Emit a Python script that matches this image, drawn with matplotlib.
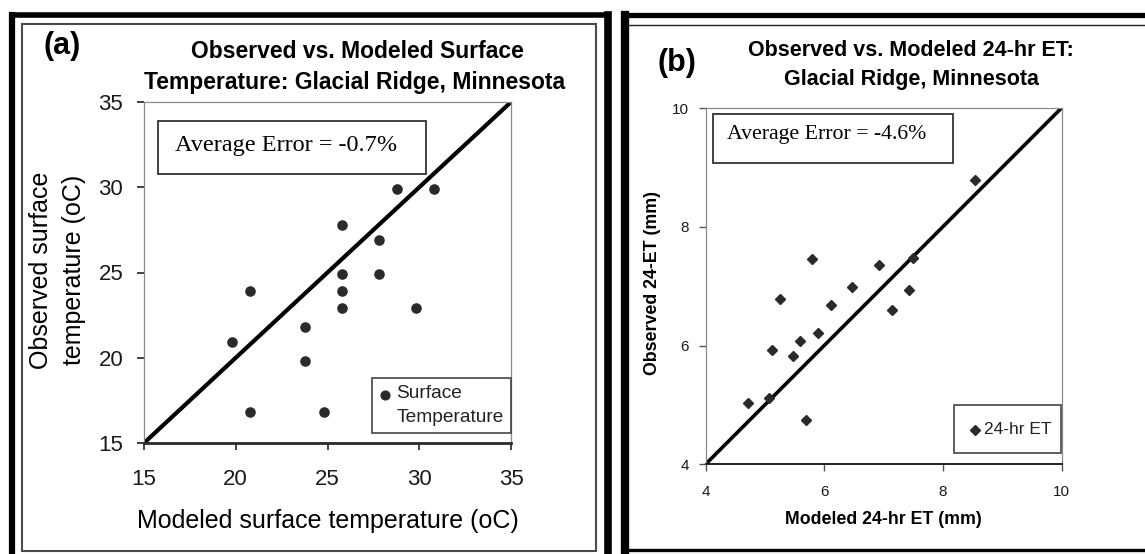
import matplotlib
matplotlib.use("Agg")
import matplotlib.pyplot as plt
import matplotlib.transforms as mtransforms
from matplotlib.patches import Rectangle
from matplotlib.lines import Line2D

W, H = 1145, 554

# ---------------- data ----------------
# Panel (a): surface temperature (oC)
modeled_temp = [28.8, 30.8, 25.8, 27.8, 25.8, 27.8, 20.8, 25.8, 25.8, 29.8, 23.8, 19.8, 23.8, 20.8, 24.8]
observed_temp = [29.9, 29.9, 27.8, 26.9, 24.9, 24.9, 23.9, 23.9, 22.9, 22.9, 21.8, 20.9, 19.8, 16.8, 16.8]
temp_ticks = [15, 20, 25, 30, 35]

# Panel (b): 24-hr ET (mm)
modeled_et = [8.55, 5.79, 6.92, 7.49, 6.47, 7.43, 5.25, 6.11, 7.15, 5.90, 5.59, 5.12, 5.47, 4.71, 5.07, 5.69]
observed_et = [8.78, 7.46, 7.36, 7.48, 6.99, 6.94, 6.78, 6.69, 6.60, 6.21, 6.07, 5.93, 5.83, 5.04, 5.11, 4.74]
et_ticks = [4, 6, 8, 10]

title_a = ["Observed vs. Modeled Surface", "Temperature: Glacial Ridge, Minnesota"]
title_b = ["Observed vs. Modeled 24-hr ET:", "Glacial Ridge, Minnesota"]
err_a = "Average Error = -0.7%"
err_b = "Average Error = -4.6%"

SANS = ["Liberation Sans", "DejaVu Sans"]
SERIF = ["Liberation Serif", "DejaVu Serif"]
plt.rcParams["font.family"] = SANS

fig = plt.figure(figsize=(W / 100, H / 100), dpi=100)
fig.patch.set_facecolor("white")

# pixel transform: x from left, y from top
PX = mtransforms.Affine2D().scale(1 / W, -1 / H).translate(0, 1) + fig.transFigure


def line(x0, y0, x1, y1, lw, color):
    fig.add_artist(Line2D([x0, x1], [y0, y1], lw=lw, color=color, transform=PX,
                          solid_capstyle="projecting"))


def rect(x0, y0, x1, y1, lw, ec):
    fig.add_artist(Rectangle((x0, y0), x1 - x0, y1 - y0, fill=False, lw=lw, ec=ec,
                             transform=PX))


def ftext(x, y, s, **kw):
    fig.text(x, y, s, transform=PX, **kw)


def axes_px(l, t, r, b):
    return fig.add_axes([l / W, 1 - b / H, (r - l) / W, (b - t) / H])


# ---------------- frames ----------------
# panel (a)
line(12, 14.5, 608, 14.5, 4.0, "black")
line(12, 14.5, 12, 560, 4.5, "black")
line(608, 14.5, 608, 560, 5.5, "black")
rect(22, 24, 596, 551, 1.5, "#4a4a4a")
# panel (b)
line(625, 15, 1150, 15, 3.8, "black")
line(625, 15, 625, 550, 6.0, "black")
line(625, 550, 1150, 550, 2.4, "black")
line(629, 24.5, 1150, 24.5, 1.0, "#222222")

# ---------------- panel (a) ----------------
axa = axes_px(144, 102, 511, 443)
axa.set_xlim(15, 35)
axa.set_ylim(15, 35)
axa.plot(temp_ticks, temp_ticks, color="black", lw=3.0, solid_capstyle="round", zorder=2)
axa.plot(modeled_temp, observed_temp, "o", ms=6.6, color="#2a2a2a", zorder=3)
axa.set_xticks(temp_ticks)
axa.set_yticks(temp_ticks)
axa.tick_params(axis="both", direction="out", length=5, width=1.3, colors="#333333",
                labelsize=16, labelcolor="#1a1a1a")
axa.tick_params(axis="x", pad=14)
axa.tick_params(axis="y", pad=10)
for s in ("top", "right", "left"):
    axa.spines[s].set_color("#8a8a8a")
    axa.spines[s].set_linewidth(0.9)
axa.spines["bottom"].set_color("#2a2a2a")
axa.spines["bottom"].set_linewidth(2.0)

ftext(62, 46, "(a)", fontsize=22, fontweight="bold", ha="center", va="center")
ftext(357, 51, title_a[0], fontsize=16.5, fontweight="bold", ha="center", va="center")
ftext(355, 83, title_a[1], fontsize=16.5, fontweight="bold", ha="center", va="center")
ftext(327.5, 521, "Modeled surface temperature (oC)", fontsize=18, ha="center", va="center")
ftext(41, 270, "Observed surface", fontsize=18, rotation=90, ha="center", va="center")
ftext(74, 270, "temperature (oC)", fontsize=18, rotation=90, ha="center", va="center")

rect(158, 121, 425.5, 174, 1.3, "#333333")
ftext(175, 146, err_a, fontsize=17.5, family=SERIF, ha="left", va="center")

rect(372, 378, 510.5, 433, 1.2, "#444444")
fig.add_artist(Line2D([385], [394.5], marker="o", ms=6.3, color="#2a2a2a", transform=PX, ls="none"))
ftext(396.5, 394, "Surface", fontsize=13.8, ha="left", va="center", color="#222222")
ftext(396.5, 418, "Temperature", fontsize=13.8, ha="left", va="center", color="#222222")

# ---------------- panel (b) ----------------
axb = axes_px(705.5, 108, 1061.5, 464.3)
axb.set_xlim(4, 10)
axb.set_ylim(4, 10)
axb.plot([4, 10], [4, 10], color="black", lw=2.6, solid_capstyle="round", zorder=2)
axb.plot(modeled_et, observed_et, "D", ms=5.0, color="#2a2a2a", zorder=3)
axb.set_xticks(et_ticks)
axb.set_yticks(et_ticks)
axb.tick_params(axis="both", direction="out", length=5, width=1.0, colors="#555555",
                labelsize=11, labelcolor="#1a1a1a")
axb.tick_params(axis="x", pad=10)
axb.tick_params(axis="y", pad=7)
for s in ("top", "right", "left"):
    axb.spines[s].set_color("#8a8a8a")
    axb.spines[s].set_linewidth(0.9)
axb.spines["bottom"].set_color("#111111")
axb.spines["bottom"].set_linewidth(1.3)

ftext(677, 63, "(b)", fontsize=22, fontweight="bold", ha="center", va="center")
ftext(911, 51, title_b[0], fontsize=15.5, fontweight="bold", ha="center", va="center")
ftext(911, 79, title_b[1], fontsize=15.5, fontweight="bold", ha="center", va="center")
ftext(883.5, 520, "Modeled 24-hr ET (mm)", fontsize=12.8, fontweight="bold", ha="center", va="center")
ftext(652.5, 283, "Observed 24-ET (mm)", fontsize=12.8, fontweight="bold", rotation=90,
      ha="center", va="center")

rect(713, 114, 953, 163, 1.3, "#333333")
ftext(727, 135, err_b, fontsize=15.7, family=SERIF, ha="left", va="center")

rect(954, 405, 1061, 453, 1.2, "#444444")
fig.add_artist(Line2D([975], [430], marker="D", ms=5.0, color="#2a2a2a", transform=PX, ls="none"))
ftext(984, 429, "24-hr ET", fontsize=12.5, ha="left", va="center", color="#222222")

fig.savefig("out.png", dpi=100, facecolor="white")
